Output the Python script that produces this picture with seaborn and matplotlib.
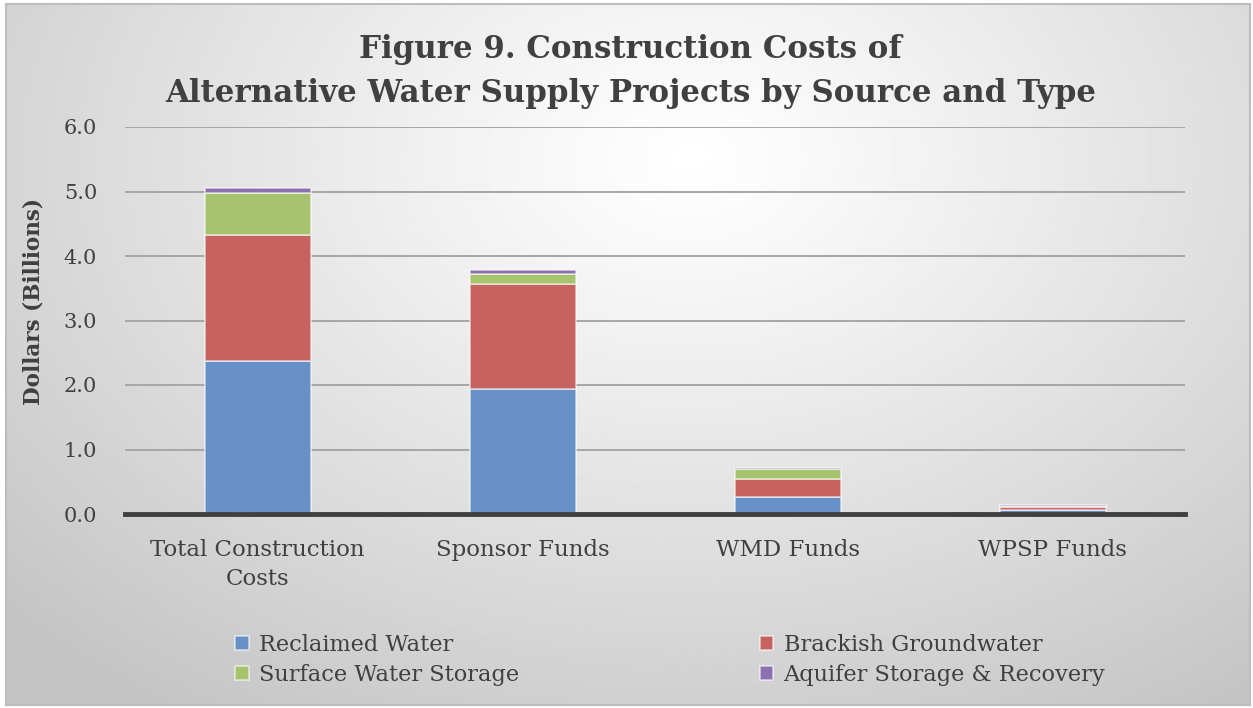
import matplotlib
matplotlib.use("Agg")
import matplotlib.pyplot as plt
import numpy as np
import seaborn as sns

categories = ["Total Construction\nCosts", "Sponsor Funds", "WMD Funds", "WPSP Funds"]
reclaimed = [2.37, 1.94, 0.27, 0.06]
brackish = [1.96, 1.63, 0.27, 0.05]
surface = [0.65, 0.15, 0.15, 0.02]
asr = [0.08, 0.06, 0.02, 0.01]

series = [
    ("Reclaimed Water", reclaimed, "#6690C6"),
    ("Brackish Groundwater", brackish, "#C6625F"),
    ("Surface Water Storage", surface, "#A6C46E"),
    ("Aquifer Storage & Recovery", asr, "#8C71B0"),
]

sns.set_theme(style="white")
plt.rcParams["font.family"] = ["DejaVu Serif"]
text_color = "#404040"

fig = plt.figure(figsize=(12.53, 7.08), dpi=100)
fig.patch.set_facecolor("white")

# gradient background panel
bg = fig.add_axes([6 / 1253, 3 / 708, 1244 / 1253, 701 / 708], zorder=-5)
yy, xx = np.mgrid[0:1:300j, 0:1:500j]
r = np.sqrt(((xx - 0.55) / 0.75) ** 2 + ((yy - 0.22) / 0.95) ** 2)
shade = 1.0 - 0.23 * np.clip(r, 0, 1) ** 1.1
bg.imshow(shade, cmap="gray", vmin=0, vmax=1, aspect="auto", extent=[0, 1, 0, 1], origin="upper")
bg.set_xticks([])
bg.set_yticks([])
for s in bg.spines.values():
    s.set_color("#BDBDBD")
    s.set_linewidth(1.5)

ax = fig.add_axes([125 / 1253, 1 - 514 / 708, 1060 / 1253, 387 / 708])
ax.set_facecolor("none")

bottom = np.zeros(len(categories))
for label, vals, color in series:
    sns.barplot(x=categories, y=vals, bottom=bottom, color=color, width=0.4,
                errorbar=None, ax=ax, label=label, saturation=1,
                edgecolor=(1, 1, 1, 0.6), linewidth=1.2, zorder=3)
    bottom = bottom + np.array(vals)

handles, labels = ax.get_legend_handles_labels()
if ax.get_legend() is not None:
    ax.get_legend().remove()

ax.set_ylim(0, 6)
ax.set_xlim(-0.5, 3.5)
ax.set_yticks(np.arange(0, 6.1, 1.0))
ax.set_yticklabels([f"{v:.1f}" for v in np.arange(0, 6.1, 1.0)])
ax.grid(axis="y", color="#A6A6A6", linewidth=1.4, zorder=0)
ax.grid(axis="x", visible=False)
for s in ["top", "right", "left"]:
    ax.spines[s].set_visible(False)
ax.spines["bottom"].set_color("#404040")
ax.spines["bottom"].set_linewidth(3.5)
ax.spines["bottom"].set_zorder(4)
ax.tick_params(axis="y", length=0, pad=20, labelsize=15, labelcolor=text_color)
ax.tick_params(axis="x", length=0, pad=18, labelsize=16.5, labelcolor=text_color)
for t in ax.get_xticklabels():
    t.set_linespacing(1.4)

ax.set_ylabel("Dollars (Billions)", fontsize=15.5, fontweight="bold", color=text_color)
ax.yaxis.set_label_coords(-0.076, 0.55)

fig.text(0.503, 0.899, "Figure 9. Construction Costs of\nAlternative Water Supply Projects by Source and Type",
         ha="center", va="center", fontsize=22.2, fontweight="bold", color=text_color,
         linespacing=1.55)

order = [0, 2, 1, 3]
leg = fig.legend([handles[i] for i in order], [labels[i] for i in order],
                 loc="center", bbox_to_anchor=(0.535, 0.068), ncol=2, frameon=False,
                 fontsize=16.2, handlelength=0.6, handleheight=0.6, handletextpad=0.45,
                 columnspacing=10.7, labelspacing=0.38)
for t in leg.get_texts():
    t.set_color(text_color)

fig.savefig("out.png", dpi=100)
